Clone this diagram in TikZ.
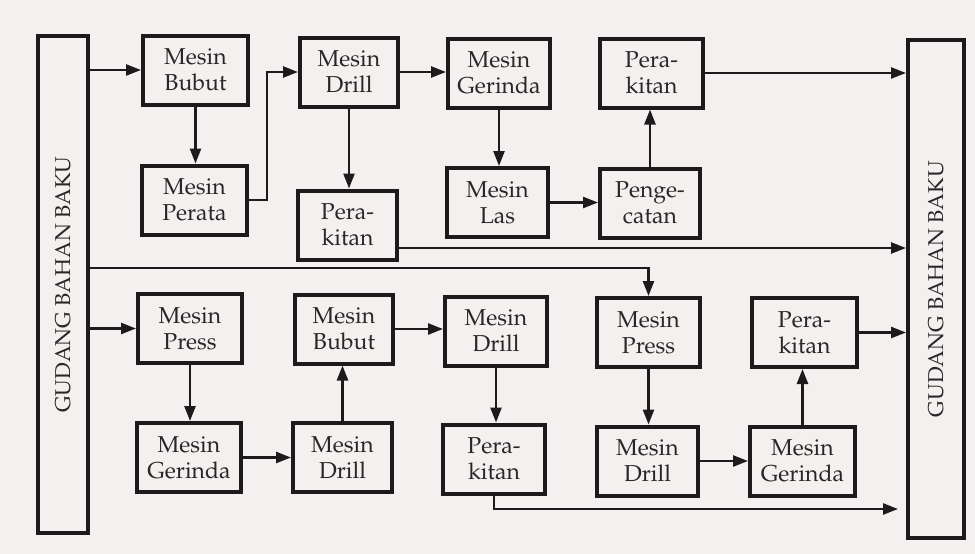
\documentclass[tikz,border=0pt]{standalone}
\usepackage[T1]{fontenc}
\usepackage{mathpazo}
\usetikzlibrary{arrows.meta,calc}
\definecolor{bgc}{RGB}{243,241,239}
\definecolor{ink}{RGB}{28,26,26}
\definecolor{txt}{RGB}{40,38,38}
\begin{document}
\begin{tikzpicture}[x=1pt,y=-1pt,
  box/.style={draw=ink,line width=4pt,fill=bgc,minimum width=102pt,minimum height=69pt,
    inner sep=0pt,align=center,text=txt,font=\fontsize{23}{26}\selectfont},
  bar/.style={draw=ink,line width=4pt,fill=bgc,inner sep=0pt},
  lbl/.style={text=txt,font=\fontsize{21.5}{24}\selectfont,rotate=90},
  arr/.style={draw=ink,line width=2.4pt,-{Triangle[length=15pt,width=11pt]}},
  ln/.style={draw=ink,line width=2.4pt}]
\fill[bgc] (0,0) rectangle (975,554);
\useasboundingbox (0,0) rectangle (975,554);
% storage bars
\node[bar,minimum width=50pt,minimum height=497pt] (gl) at (63,284.5) {};
\node[lbl] at (gl.center) {GUDANG BAHAN BAKU};
\node[bar,minimum width=56pt,minimum height=498pt] (gr) at (936,289) {};
\node[lbl] at (gr.center) {GUDANG BAHAN BAKU};
% top row
\node[box,minimum width=105pt] (bubutA) at (195.5,70) {Mesin\\Bubut};
\node[box,minimum width=105pt] (perata) at (194.5,200) {Mesin\\Perata};
\node[box,minimum width=98pt] (drillA) at (349,72) {Mesin\\Drill};
\node[box,minimum width=99pt] (rakitA) at (347.5,225) {Pera-\\kitan};
\node[box] (gerindaA) at (499,73) {Mesin\\Gerinda};
\node[box,minimum width=101pt] (las) at (497.5,202.5) {Mesin\\Las};
\node[box,minimum width=103pt] (rakitB) at (651.5,73) {Pera-\\kitan};
\node[box,minimum width=100pt] (cat) at (650,203) {Penge-\\catan};
% bottom row
\node[box,minimum width=104pt] (pressA) at (190,328.5) {Mesin\\Press};
\node[box,minimum width=104pt] (gerindaB) at (189,457.5) {Mesin\\Gerinda};
\node[box,minimum width=98pt] (bubutB) at (344,329) {Mesin\\Bubut};
\node[box,minimum width=99pt] (drillB) at (342.5,457.5) {Mesin\\Drill};
\node[box] (drillC) at (496,331) {Mesin\\Drill};
\node[box] (rakitC) at (494,459) {Pera-\\kitan};
\node[box,minimum width=103pt] (pressB) at (648.5,332.5) {Mesin\\Press};
\node[box,minimum width=101pt] (drillD) at (647.5,461) {Mesin\\Drill};
\node[box,minimum width=105pt] (rakitD) at (804.5,332.5) {Pera-\\kitan};
\node[box,minimum width=105pt] (gerindaC) at (802.5,461) {Mesin\\Gerinda};
\coordinate (split) at (0,268);
\coordinate (low) at (0,509);
% top connectors
\draw[arr] (gl.east |- bubutA.west) -- (bubutA.west);
\draw[arr] (bubutA.south) -- (bubutA.south |- perata.north);
\draw[arr] (perata.east) -- ++(18,0) |- (drillA.west);
\draw[arr] (drillA.east) -- (drillA.east -| gerindaA.west);
\draw[arr] (drillA.south) -- (drillA.south |- rakitA.north);
\draw[arr] (gerindaA.south) -- (gerindaA.south |- las.north);
\draw[arr] (las.east) -- (las.east -| cat.west);
\draw[arr] (cat.north) -- (cat.north |- rakitB.south);
\draw[arr] (rakitB.east) -- (rakitB.east -| gr.west);
\draw[arr] ([yshift=-23pt]rakitA.east) -- ([yshift=-23pt]rakitA.east -| gr.west);
\draw[arr] (gl.east |- split) -| (pressB.north);
% bottom connectors
\draw[arr] (gl.east |- pressA.west) -- (pressA.west);
\draw[arr] (pressA.south) -- (pressA.south |- gerindaB.north);
\draw[arr] (gerindaB.east) -- (gerindaB.east -| drillB.west);
\draw[arr] (drillB.north) -- (drillB.north |- bubutB.south);
\draw[arr] (bubutB.east) -- (bubutB.east -| drillC.west);
\draw[arr] (drillC.south) -- (drillC.south |- rakitC.north);
\draw[arr] (rakitC.south) |- ([xshift=-8pt]gr.west |- low);
\draw[arr] (pressB.south) -- (pressB.south |- drillD.north);
\draw[arr] (drillD.east) -- (drillD.east -| gerindaC.west);
\draw[arr] (gerindaC.north) -- (gerindaC.north |- rakitD.south);
\draw[arr] (rakitD.east) -- (rakitD.east -| gr.west);
\end{tikzpicture}
\end{document}
